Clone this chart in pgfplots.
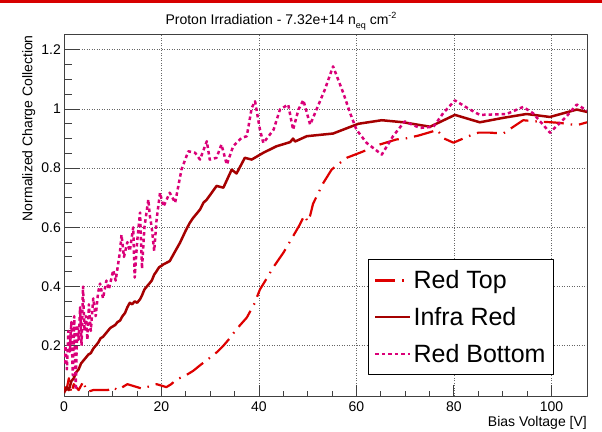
\documentclass[border=0pt]{standalone}
\usepackage{pgfplots}
\pgfplotsset{compat=1.18}
\usepackage{fontspec}
\setmainfont{Liberation Sans}
\definecolor{redtop}{RGB}{222,0,0}
\definecolor{infra}{RGB}{165,0,0}
\definecolor{redbot}{RGB}{218,0,120}
\definecolor{topbar}{RGB}{215,0,0}

\pgfplotstableread{
x y
0 0.06
0.5 0.05
1 0.09
1.5 0.04
2 0.07
3 0.05
4 0.08
4.5 0.05
5 0.045
6 0.05
8 0.05
9 0.05
10 0.06
11 0.05
12 0.06
13 0.07
14 0.065
15 0.06
16 0.055
17 0.06
18 0.065
19 0.07
20 0.065
21 0.06
22 0.07
23 0.085
25 0.1
26.5 0.115
28 0.135
30 0.16
31.5 0.18
32.7 0.2
34 0.225
35.4 0.256
37.5 0.295
39 0.34
40.2 0.39
41.5 0.425
42.9 0.464
45 0.514
47 0.57
48.4 0.61
49.3 0.64
50 0.62
50.5 0.64
51.1 0.68
53.2 0.75
54.9 0.795
56 0.81
58 0.835
61 0.854
64.8 0.88
68.2 0.897
70 0.90
72.7 0.91
75.8 0.925
76.5 0.93
78 0.90
79.9 0.886
83.3 0.91
85 0.92
87.4 0.92
90.1 0.917
92.2 0.94
94.2 0.962
96.9 0.958
100 0.955
101.7 0.953
105.2 0.945
107.3 0.955
}\redtop

\pgfplotstableread{
x y
0 0.04
0.5 0.06
1 0.05
1.5 0.08
2 0.09
2.5 0.11
3 0.12
3.5 0.14
4 0.15
4.5 0.16
5 0.17
5.5 0.175
6 0.19
6.5 0.2
7 0.21
7.5 0.225
8 0.23
8.5 0.24
9 0.25
9.5 0.26
10 0.265
10.5 0.27
11 0.28
11.5 0.285
12 0.3
12.5 0.31
13 0.33
13.5 0.345
14 0.34
14.5 0.35
15 0.345
15.6 0.357
16 0.37
16.5 0.39
17 0.40
17.5 0.41
18 0.42
18.5 0.44
19 0.452
19.5 0.465
20 0.47
20.4 0.475
21 0.48
21.7 0.486
22.5 0.51
23.8 0.548
25 0.59
25.8 0.615
26.5 0.632
27.9 0.66
28.6 0.683
29.3 0.694
30 0.71
31.3 0.74
32.7 0.734
34.4 0.795
35.4 0.782
37.1 0.835
38.5 0.829
40.9 0.852
43.6 0.874
46.4 0.888
47 0.9
47.4 0.89
49.8 0.908
55.2 0.917
60.4 0.95
65.2 0.962
69.6 0.955
75.1 0.94
80.2 0.98
85.3 0.955
90.1 0.97
94.9 0.983
99.7 0.973
105.2 0.998
107.3 0.99
}\infrared

\pgfplotstableread{
x y
0 0.14
0.3 0.2
0.6 0.12
0.9 0.25
1.2 0.18
1.5 0.28
1.8 0.1
2.1 0.3
2.4 0.05
2.7 0.27
3 0.22
3.3 0.33
3.6 0.2
3.9 0.4
4.2 0.25
4.5 0.3
4.8 0.22
5.1 0.34
5.5 0.25
6 0.36
6.5 0.3
7 0.38
7.4 0.41
8 0.36
8.7 0.42
9.2 0.39
10.1 0.455
10.6 0.42
11.5 0.52
11.8 0.575
12.3 0.5
13 0.55
13.5 0.52
14.2 0.6
14.5 0.43
15 0.55
15.6 0.65
16 0.46
16.5 0.6
17.3 0.694
17.6 0.64
18 0.6
18.5 0.52
19 0.627
19.7 0.717
20.4 0.67
21.7 0.717
22.8 0.683
24.1 0.795
25.5 0.857
26.9 0.852
27.9 0.829
29.3 0.891
29.9 0.829
31.3 0.835
32.3 0.88
33.4 0.812
34.7 0.874
36.4 0.902
37.5 0.908
38.5 1.003
39.2 1.026
40.2 0.93
40.9 0.885
43 0.93
44.3 0.998
46 1.015
47 0.93
48.1 0.998
49.1 1.03
50.5 0.947
51.8 0.998
53.5 1.065
55.2 1.144
57.3 1.054
58.7 0.986
60 0.93
62.1 0.885
65.2 0.846
67.5 0.908
69.9 0.958
73 0.936
75.8 0.94
77.8 0.986
80.2 1.029
83.3 0.998
85.3 0.98
90.8 0.983
94.2 1.007
96.2 0.986
99.7 0.92
103.1 0.975
105.2 1.015
107.3 0.995
}\redbottom

\begin{document}
\begin{tikzpicture}[x=1bp,y=1bp]
\useasboundingbox (0,0) rectangle (602,431);
\fill[topbar] (0,428) rectangle (602,431);
\node[anchor=base,inner sep=0,font=\fontsize{14bp}{16bp}\selectfont] at (281,406)
  {Proton Irradiation - 7.32e+14 n\raisebox{-0.45ex}{\fontsize{9bp}{9bp}\selectfont eq} cm\raisebox{0.85ex}{\fontsize{9bp}{9bp}\selectfont -2}};
\begin{axis}[
  at={(64bp,35bp)}, anchor=south west, scale only axis,
  width=523bp, height=361bp,
  xmin=0, xmax=107.3, ymin=0.03, ymax=1.25,
  xtick={0,20,40,60,80,100}, ytick={0.2,0.4,0.6,0.8,1,1.2},
  yticklabels={0.2,0.4,0.6,0.8,1,1.2},
  minor x tick num=3, minor y tick num=3,
  tick align=inside, xtick pos=bottom, ytick pos=left,
  xtick style={/pgfplots/major tick length=11bp,/pgfplots/minor tick length=5.5bp, black!75, line width=0.9bp},
  ytick style={/pgfplots/major tick length=16bp,/pgfplots/minor tick length=8bp, black!75, line width=0.9bp},
  grid=major, major grid style={black!60, dash pattern=on 1bp off 1.5bp, line width=0.6bp},
  axis line style={line width=1bp, black!75},
  font=\fontsize{14bp}{16bp}\selectfont,
  /pgf/number format/assume math mode=true,
  xticklabel style={inner sep=0pt, yshift=-6bp},
  yticklabel style={inner sep=0pt, xshift=-3bp},
  xlabel={Bias Voltage [V]},
  xlabel style={at={(axis description cs:1,0)}, anchor=north east, inner sep=0pt, yshift=-20bp},
  ylabel={Normalized Charge Collection},
  ylabel style={at={(axis description cs:-0.0803,1)}, anchor=north east, inner sep=0pt},
  legend style={at={(rel axis cs:0.937,0.058)}, anchor=south east, draw=black, line width=1bp,
    font=\fontsize{25bp}{28bp}\selectfont, row sep=13bp, inner xsep=6bp, inner ysep=9bp,
    cells={anchor=west}, nodes={inner sep=2bp}},
  legend image code/.code={\draw[#1] (0bp,0bp) -- (35bp,0bp);},
  line join=round,
]
\addplot[redtop, line width=2.2bp, dash pattern=on 20bp off 7bp on 1.5bp off 7bp] table[x=x,y=y] {\redtop};
\addlegendentry{Red Top}
\addplot[infra, line width=2.5bp] table[x=x,y=y] {\infrared};
\addlegendentry{Infra Red}
\addplot[redbot, line width=2.5bp, dash pattern=on 3.5bp off 3bp] table[x=x,y=y] {\redbottom};
\addlegendentry{Red Bottom}
\end{axis}
\end{tikzpicture}
\end{document}
